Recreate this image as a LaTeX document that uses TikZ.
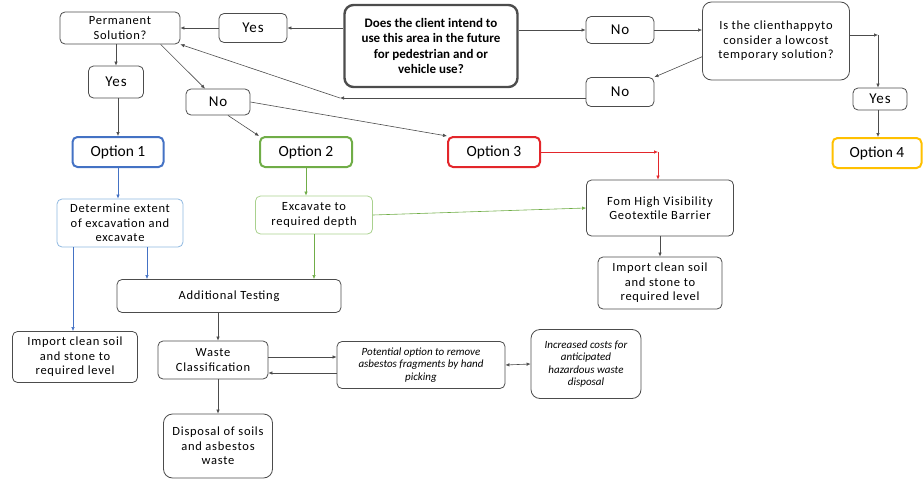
\documentclass[tikz,border=0pt]{standalone}
\usepackage{fontspec}
\setmainfont{Carlito}
\newfontfamily\wide[LetterSpace=6]{Carlito}
\usetikzlibrary{arrows.meta,calc,positioning}

\definecolor{optblue}{HTML}{4472C4}
\definecolor{optgreen}{HTML}{70AD47}
\definecolor{optred}{HTML}{E3262B}
\definecolor{optyellow}{HTML}{FFC000}
\definecolor{lightblue}{HTML}{8FB8E0}
\definecolor{lightgreen}{HTML}{A9D18E}

\tikzset{
  box/.style={draw=black!70, line width=0.8pt, rounded corners=5pt, align=center,
    inner sep=1pt, font=\wide\fontsize{12.5}{14.5}\selectfont},
  yesno/.style={box, font=\wide\fontsize{15}{17}\selectfont},
  option/.style={box, line width=2pt, font=\fontsize{15.5}{17}\selectfont},
  note/.style={box, font=\fontsize{11}{12.5}\selectfont\itshape},
  link/.style={-{Latex[length=4pt,width=3.5pt]}, draw=black!70, line width=0.6pt},
}

\begin{document}
\begin{tikzpicture}[x=1pt,y=-1pt]
  \useasboundingbox (0,0) rectangle (924,479);

  % Preguntas
  \node[box, line width=2.4pt, rounded corners=9pt, minimum width=173pt, minimum height=82pt,
    font=\fontsize{13}{15.5}\selectfont\bfseries] (quest) at (431,46)
    {Does the client intend to\\use this area in the future\\for pedestrian and or\\vehicle use?};
  \node[box, minimum width=120pt, minimum height=32pt] (perm) at (120,28) {Permanent\\Solution?};
  \node[box, rounded corners=9pt, minimum width=147pt, minimum height=78pt] (happy) at (776,41)
    {Is the clienthappyto\\consider a lowcost\\temporary solution?};

  % Respuestas
  \node[yesno, minimum width=68pt, minimum height=29pt] (yesA) at (253,28) {Yes};
  \node[yesno, minimum width=68pt, minimum height=27pt] (noA) at (620,30) {No};
  \node[yesno, minimum width=68pt, minimum height=29pt] (noB) at (620,92) {No};
  \node[yesno, minimum width=55pt, minimum height=32pt] (yesB) at (116,82) {Yes};
  \node[yesno, minimum width=64pt, minimum height=26pt] (noC) at (218,102) {No};
  \node[yesno, minimum width=54pt, minimum height=22pt] (yesC) at (880,99) {Yes};

  % Opciones
  \node[option, draw=optblue, minimum width=91pt, minimum height=30pt] (opt1) at (118,152) {Option 1};
  \node[option, draw=optgreen, minimum width=92pt, minimum height=30pt] (opt2) at (306,152) {Option 2};
  \node[option, draw=optred, minimum width=92pt, minimum height=30pt] (opt3) at (494,152) {Option 3};
  \node[option, draw=optyellow, minimum width=89pt, minimum height=30pt] (opt4) at (877,153) {Option 4};

  % Pasos
  \node[box, draw=lightblue, minimum width=126pt, minimum height=48pt] (determ) at (120,223)
    {Determine extent\\of excavation and\\excavate};
  \node[box, draw=lightgreen, minimum width=117pt, minimum height=38pt] (excav) at (314,215)
    {Excavate to\\required depth};
  \node[box, minimum width=147pt, minimum height=56pt] (form) at (660,208)
    {Fom High Visibility\\Geotextile Barrier};
  \node[box, minimum width=124pt, minimum height=52pt] (impR) at (660,283)
    {Import clean soil\\and stone to\\required level};
  \node[box, minimum width=224pt, minimum height=33pt] (test) at (229,296) {Additional Testing};
  \node[box, minimum width=125pt, minimum height=51pt] (impL) at (75,357)
    {Import clean soil\\and stone to\\required level};
  \node[box, minimum width=110pt, minimum height=38pt] (waste) at (213,360) {Waste\\Classification};
  \node[note, minimum width=168pt, minimum height=47pt] (pick) at (421,365)
    {Potential option to remove\\asbestos fragments by hand\\picking};
  \node[note, rounded corners=9pt, minimum width=110pt, minimum height=69pt] (cost) at (586,364)
    {Increased costs for\\anticipated\\hazardous waste\\disposal};
  \node[box, rounded corners=9pt, minimum width=109pt, minimum height=64pt] (disp) at (218,446)
    {Disposal of soils\\and asbestos\\waste};

  % Puntos de paso
  \coordinate (noBend) at (340,98);
  \coordinate (redBend) at (658,152);
  \coordinate (yesBend) at (878,35);

  % Flechas superiores
  \draw[link] (quest.west |- yesA.east) -- (yesA.east);
  \draw[link] (yesA.west) -- (perm.east);
  \draw[link] (quest.east |- noA.west) -- (noA.west);
  \draw[link] (noA.east) -- (happy.west |- noA.east);
  \draw[link] (happy.192) -- (noB.north east);
  \draw[link] (noB.west |- noBend) -- (noBend);
  \draw[link] (noBend) -- (perm.south east);
  \draw[link] (happy.east |- yesBend) -- (yesBend);
  \draw[link] (yesBend) -- (yesC.north -| yesBend);
  \draw[link] (yesC.south -| yesBend) -- (opt4.north -| yesBend);
  \draw[link] (perm.south -| yesB) -- (yesB.north);
  \draw[link] (perm.-22) -- ($(noC.north)+(-13,0)$);
  \draw[link] (yesB.south -| opt1) -- (opt1.north);
  \draw[link] ($(noC.south)+(10,0)$) -- (opt2.north west);
  \draw[link] (noC.east) -- (opt3.north west);

  % Flechas de opciones
  \draw[link, draw=optblue] (opt1.south) -- (determ.north -| opt1.south);
  \draw[link, draw=optgreen] (opt2.south) -- (excav.north -| opt2.south);
  \draw[link, draw=optred] (opt3.east) -- (redBend);
  \draw[link, draw=optred] (redBend) -- (form.north -| redBend);
  \draw[link, draw=optgreen] (excav.east) -- (form.west);
  \draw[link, draw=optgreen] (excav.south) -- (excav.south |- test.north);
  \draw[link, draw=optblue] ($(determ.south)+(27,0)$) -- ($(determ.south |- test.north)+(27,0)$);
  \draw[link, draw=optblue] ($(determ.south)+(-47,0)$) -- ($(determ.south |- impL.north)+(-47,0)$);
  \draw[link] (form.south) -- (impR.north);

  % Flechas inferiores
  \draw[link] ($(test.south)+(-11,0)$) -- ($(test.south |- waste.north)+(-11,0)$);
  \draw[link] ($(waste.east)+(0,-3)$) -- ($(waste.east -| pick.west)+(0,-3)$);
  \draw[link] ($(pick.west)+(0,8)$) -- ($(waste.east |- pick.west)+(0,8)$);
  \draw[link, {Latex[length=4pt,width=3.5pt]}-{Latex[length=4pt,width=3.5pt]}] (pick.east) -- (cost.west);
  \draw[link] ($(waste.south)+(5,0)$) -- ($(waste.south |- disp.north)+(5,0)$);
\end{tikzpicture}
\end{document}
